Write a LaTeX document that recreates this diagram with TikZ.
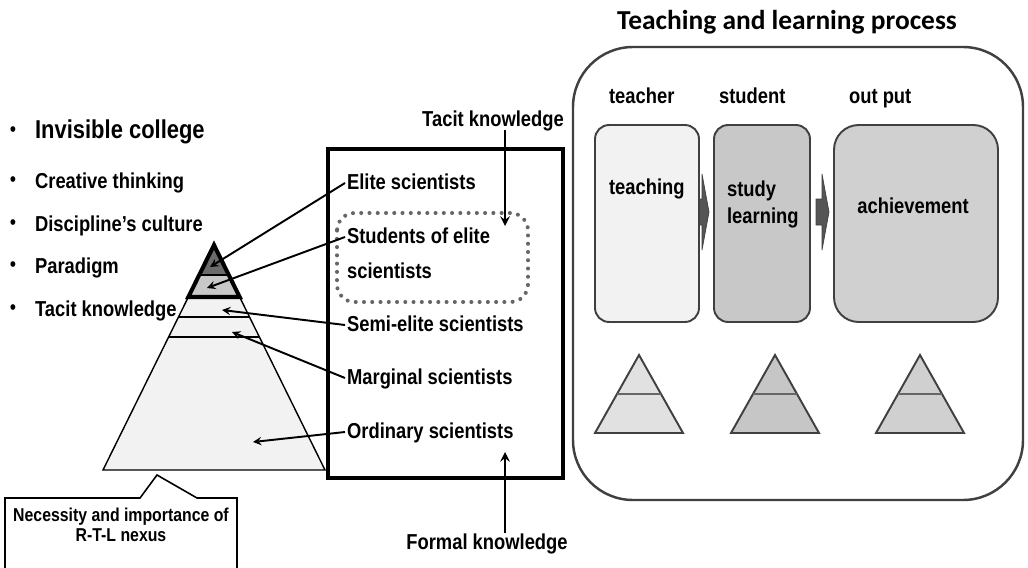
\documentclass[tikz,border=0pt]{standalone}
\usepackage{fontspec}
\setmainfont{Liberation Sans}[FakeStretch=0.85]
\newfontfamily\headfont{Carlito}
\usepackage{xcolor}
\definecolor{frame}{HTML}{404040}
\definecolor{tipdark}{HTML}{6B6B6B}
\definecolor{tipmid}{HTML}{C8C8C8}
\definecolor{pyrlight}{HTML}{F2F2F2}
\definecolor{boxa}{HTML}{F2F2F2}
\definecolor{boxb}{HTML}{C8C8C8}
\definecolor{boxc}{HTML}{D0D0D0}
\definecolor{pya}{HTML}{E1E1E1}
\definecolor{pyb}{HTML}{C6C6C6}
\definecolor{pyc}{HTML}{D0D0D0}
\definecolor{dotgray}{HTML}{666666}
\definecolor{arrowgray}{HTML}{555555}

\begin{document}
\begin{tikzpicture}[x=0.02cm, y=-0.02cm,
    lbl/.style={font=\bfseries\fontsize{12.3}{14.5}\selectfont, inner sep=1pt, anchor=west, text height=0.8em, text depth=0.1em},
    big/.style={font=\bfseries\fontsize{14.7}{17}\selectfont, inner sep=1pt, anchor=west, text height=0.8em, text depth=0.1em},
    dot/.style={font=\fontsize{12}{14}\selectfont, inner sep=0pt},
    pointer/.style={-stealth, line width=1.1pt},
    knowarrow/.style={-stealth, line width=1.4pt},
    procbox/.style={draw=frame, line width=1.1pt, rounded corners=8pt, inner sep=0pt, minimum height=3.94cm}]
  \useasboundingbox (0,0) rectangle (1028,568);

  % bullet list on the left
  \node[dot] (b1) at (13,132) {•};
  \node[big] (invisible) at (33,132) {Invisible college};
  \foreach \txt/\yy [count=\i from 2] in {Creative thinking/182, Discipline’s culture/225, Paradigm/267, Tacit knowledge/310} {
    \node[dot] (b\i) at (13,\yy) {•};
    \node[lbl] (item\i) at (33,\yy) {\txt};
  }

  % the pyramid of scientists
  \filldraw[fill=pyrlight, line width=0.8pt] (214,245) -- (325,470) -- (103,470) -- cycle;
  \fill[tipmid] (214,245) -- (239.65,297) -- (188.35,297) -- cycle;
  \fill[tipdark] (214,245) -- (228.8,275) -- (199.2,275) -- cycle;
  \draw[line width=1.1pt] (199.2,275) -- (228.8,275);
  \draw[line width=2.3pt, line join=miter] (214,245) -- (239.65,297) -- (188.35,297) -- cycle;
  \draw[line width=1.1pt] (178.5,317) -- (249.5,317) (168.6,337) -- (259.4,337);
  \coordinate (pelite) at (210,267);
  \coordinate (pstud) at (207,288);
  \coordinate (psemi) at (222,310);
  \coordinate (pmarg) at (232,332);
  \coordinate (pord) at (253,442);

  % callout under the pyramid
  \filldraw[fill=white, line width=0.9pt] (5,572) -- (5,498) -- (140,498) -- (157,475) -- (197,498) -- (237,498) -- (237,572);
  \node[font=\bfseries\fontsize{10.6}{11.3}\selectfont, align=center] (nexus) at (121,525) {Necessity and importance of\\R-T-L nexus};

  % levels box
  \draw[line width=2.8pt] (328,149) rectangle (563,478);
  \draw[dotgray, line width=2.3pt, line cap=round, dash pattern=on 0pt off 4.7pt, rounded corners=10pt] (337,213) rectangle (528,302);

  \node[lbl] (elite) at (345,183) {Elite scientists};
  \node[lbl] (students) at (345,237) {Students of elite};
  \node[lbl] (studentsb) at (345,272) {scientists};
  \node[lbl] (semi) at (345,325) {Semi-elite scientists};
  \node[lbl] (marginal) at (345,378) {Marginal scientists};
  \node[lbl] (ordinary) at (345,432) {Ordinary scientists};

  \draw[pointer] (elite.west) -- (pelite);
  \draw[pointer] (students.west) -- (pstud);
  \draw[pointer] (semi.west) -- (psemi);
  \draw[pointer] (marginal.west) -- (pmarg);
  \draw[pointer] (ordinary.west) -- (pord);

  % tacit and formal knowledge
  \node[lbl, anchor=center] (tacit) at (493,120) {Tacit knowledge};
  \coordinate (tacitend) at (505,226);
  \draw[knowarrow] (tacit.south -| tacitend) -- (tacitend);
  \node[lbl, anchor=center] (formal) at (487,543) {Formal knowledge};
  \coordinate (formalend) at (505,452);
  \draw[knowarrow] (formal.north -| formalend) -- (formalend);

  % teaching and learning process
  \node[font=\headfont\bfseries\fontsize{15.6}{18}\selectfont] (title) at (787,22) {Teaching and learning process};
  \draw[frame, line width=1.4pt, rounded corners=1.2cm] (573,47) rectangle (1023,500);

  \node[lbl] (teacher) at (607,97) {teacher};
  \node[lbl] (student) at (717,97) {student};
  \node[lbl] (output) at (847,97) {out put};

  \foreach \xa in {696,816}
    \filldraw[fill=arrowgray, draw=frame, line width=0.4pt] (\xa,199) -- (\xa+6,199) -- (\xa+6,174) -- (\xa+13,212) -- (\xa+6,250) -- (\xa+6,225) -- (\xa,225) -- cycle;

  \node[procbox, fill=boxa, minimum width=2.08cm] (teach) at (647,223.5) {};
  \node[procbox, fill=boxb, minimum width=1.92cm] (study) at (762,223.5) {};
  \node[procbox, fill=boxc, minimum width=3.28cm, rounded corners=14pt] (achieve) at (916,223.5) {};

  \node[lbl] (teachtxt) at (607,188) {teaching};
  \node[lbl] (studytxt) at (725,190) {study};
  \node[lbl] (learntxt) at (725,217) {learning};
  \node[lbl, anchor=center] (achtxt) at (913,207) {achievement};

  % small pyramids under each stage
  \foreach \cx/\col in {639/pya, 775/pyb, 920/pyc} {
    \filldraw[fill=\col, draw=frame, line width=1.1pt, line join=miter] (\cx,355) -- (\cx+44,433) -- (\cx-44,433) -- cycle;
    \draw[frame!80, line width=0.6pt] (\cx-22,394) -- (\cx+22,394);
  }
\end{tikzpicture}
\end{document}
